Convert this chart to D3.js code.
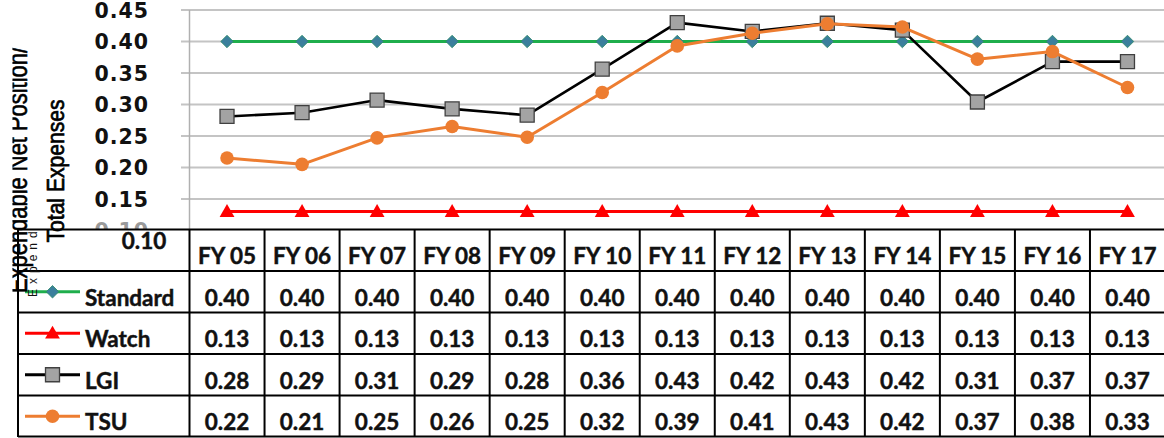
<!DOCTYPE html>
<html><head><meta charset="utf-8">
<script src="https://cdn.jsdelivr.net/npm/d3@7/dist/d3.min.js"></script>
<style>body{margin:0;background:#fff}svg{display:block}</style>
</head><body>
<script>
const years = ["FY 05","FY 06","FY 07","FY 08","FY 09","FY 10","FY 11","FY 12","FY 13","FY 14","FY 15","FY 16","FY 17"];
const standard = [0.40,0.40,0.40,0.40,0.40,0.40,0.40,0.40,0.40,0.40,0.40,0.40,0.40];
const watch = [0.13,0.13,0.13,0.13,0.13,0.13,0.13,0.13,0.13,0.13,0.13,0.13,0.13];
const lgi = [0.281,0.287,0.307,0.293,0.283,0.356,0.430,0.416,0.429,0.418,0.304,0.368,0.368];
const tsu = [0.215,0.205,0.247,0.265,0.248,0.319,0.393,0.413,0.428,0.423,0.372,0.384,0.327];
const standardLabels = ["0.40","0.40","0.40","0.40","0.40","0.40","0.40","0.40","0.40","0.40","0.40","0.40","0.40"];
const watchLabels = ["0.13","0.13","0.13","0.13","0.13","0.13","0.13","0.13","0.13","0.13","0.13","0.13","0.13"];
const lgiLabels = ["0.28","0.29","0.31","0.29","0.28","0.36","0.43","0.42","0.43","0.42","0.31","0.37","0.37"];
const tsuLabels = ["0.22","0.21","0.25","0.26","0.25","0.32","0.39","0.41","0.43","0.42","0.37","0.38","0.33"];
const yTicks = [0.10,0.15,0.20,0.25,0.30,0.35,0.40,0.45];
const seriesNames = ["Standard","Watch","LGI","TSU"];
const yTitle1 = "Expendable Net Position/";
const yTitle2 = "Total Expenses";

const W = 1164, H = 438;
const svg = d3.select("body").append("svg").attr("width", W).attr("height", H);
svg.append("rect").attr("width", W).attr("height", H).attr("fill", "#fff");

const x = d3.scaleBand().domain(years).range([189.5, 1165]).padding(0);
const cx = d => x(d) + x.bandwidth() / 2;
const y = d3.scaleLinear().domain([0.10, 0.45]).range([230.5, 10]);

// gridlines
svg.append("g").selectAll("line").data(yTicks).join("line")
  .attr("x1", 181).attr("x2", W)
  .attr("y1", d => y(d)).attr("y2", d => y(d))
  .attr("stroke", "#c4c4c4").attr("stroke-width", 2);
// axis line
svg.append("line").attr("x1", 189.5).attr("x2", 189.5).attr("y1", y(0.45)).attr("y2", y(0.10))
  .attr("stroke", "#b0b0b0").attr("stroke-width", 1.5);

// tick labels
svg.append("g").selectAll("text").data(yTicks).join("text")
  .attr("x", 149).attr("y", d => y(d) + 7.5)
  .attr("text-anchor", "end")
  .attr("font-family", "DejaVu Sans").attr("font-weight", "bold").attr("font-size", 20.5)
  .attr("letter-spacing", 1)
  .attr("fill", d => d === 0.10 ? "#9a9a9a" : "#111")
  .text(d => d.toFixed(2));

// lines
const seriesData = [
  {name: "Standard", vals: standard, color: "#1fae4c", sym: "diamond"},
  {name: "Watch", vals: watch, color: "#ff0000", sym: "triangle"},
  {name: "LGI", vals: lgi, color: "#000000", sym: "square"},
  {name: "TSU", vals: tsu, color: "#ed7d31", sym: "circle"}
];
const line = d3.line().x((d, i) => cx(years[i])).y(d => y(d));

function marker(g, sym) {
  if (sym === "diamond") {
    g.append("path").attr("d", d3.symbol(d3.symbolSquare, 78)()).attr("transform", "rotate(45)")
      .attr("fill", "#3b7f9c").attr("stroke", "#2e8a6a").attr("stroke-width", 0.8);
  } else if (sym === "triangle") {
    g.append("path").attr("d", d3.symbol(d3.symbolTriangle, 95)()).attr("transform", "translate(0,1)")
      .attr("fill", "#ff0000");
  } else if (sym === "square") {
    g.append("path").attr("d", d3.symbol(d3.symbolSquare, 196)())
      .attr("fill", "#a3a3a3").attr("stroke", "#404040").attr("stroke-width", 1.3);
  } else {
    g.append("path").attr("d", d3.symbol(d3.symbolCircle, 145)())
      .attr("fill", "#ed7d31");
  }
}

seriesData.forEach(s => {
  svg.append("path").datum(s.vals).attr("d", line)
    .attr("fill", "none").attr("stroke", s.color).attr("stroke-width", s.sym === "square" ? 2.6 : 3)
    .attr("stroke-linejoin", "round");
  s.vals.forEach((v, i) => {
    const g = svg.append("g").attr("transform", `translate(${cx(years[i])},${y(v)})`);
    marker(g, s.sym);
  });
});

// table
const rowTop = 229.5, rowH = 41.5;
const tableLeft = 18;
svg.append("rect").attr("x", tableLeft).attr("y", rowTop).attr("width", W - tableLeft).attr("height", H - rowTop)
  .attr("fill", "#fff");

const rowLines = d3.range(6).map(i => rowTop + i * rowH);
const tg = svg.append("g");
tg.selectAll("line.h").data(rowLines).join("line").attr("class", "h")
  .attr("x1", tableLeft).attr("x2", W).attr("y1", d => Math.min(d, 436.5)).attr("y2", d => Math.min(d, 436.5))
  .attr("stroke", "#000").attr("stroke-width", 2);
const colLines = [tableLeft, 189.5].concat(years.slice(1).map(d => x(d)));
tg.selectAll("line.v").data(colLines).join("line").attr("class", "v")
  .attr("x1", d => d).attr("x2", d => d).attr("y1", rowTop).attr("y2", 437)
  .attr("stroke", "#000").attr("stroke-width", 2);

const tfont = t => t.attr("font-family", "Lato").attr("font-weight", 700).attr("font-size", 22.5)
  .attr("fill", "#111").attr("stroke", "#111").attr("stroke-width", 0.45);
// header
tfont(tg.selectAll("text.hd").data(years).join("text").attr("class", "hd")
  .attr("x", d => cx(d)).attr("y", rowTop + rowH - 7).attr("text-anchor", "middle").text(d => d));
tfont(tg.append("text").attr("x", 144).attr("y", 248.5).attr("text-anchor", "middle").text(yTicks[0].toFixed(2)));

const rowLabels = [standardLabels, watchLabels, lgiLabels, tsuLabels];
seriesData.forEach((s, r) => {
  const top = rowTop + (r + 1) * rowH;
  const bottom = top + rowH;
  tfont(tg.selectAll(null).data(rowLabels[r]).join("text")
    .attr("x", (d, i) => cx(years[i])).attr("y", bottom - 7).attr("text-anchor", "middle").text(d => d));
  const my = top + rowH / 2;
  tg.append("line").attr("x1", 25).attr("x2", 80).attr("y1", my).attr("y2", my)
    .attr("stroke", s.color).attr("stroke-width", 3);
  marker(tg.append("g").attr("transform", `translate(52.5,${my})`), s.sym);
  tfont(tg.append("text").attr("x", 85).attr("y", bottom - 7).text(seriesNames[r]));
});

// axis titles (drawn over the table, as in the reference)
const clip = svg.append("clipPath").attr("id", "clipL");
clip.append("rect").attr("x", 12.5).attr("y", 0).attr("width", 200).attr("height", H);
svg.append("g").attr("clip-path", "url(#clipL)")
  .append("text")
  .attr("transform", "translate(27,170) rotate(-90)")
  .attr("text-anchor", "middle")
  .attr("font-family", "Liberation Sans").attr("font-size", 28)
  .attr("textLength", 246).attr("lengthAdjust", "spacingAndGlyphs")
  .attr("fill", "#000").attr("stroke", "#000").attr("stroke-width", 0.6).text(yTitle1);
svg.append("text")
  .attr("transform", "translate(64,171) rotate(-90)")
  .attr("text-anchor", "middle")
  .attr("font-family", "Liberation Sans").attr("font-size", 24)
  .attr("textLength", 143).attr("lengthAdjust", "spacingAndGlyphs")
  .attr("fill", "#000").attr("stroke", "#000").attr("stroke-width", 0.7).text(yTitle2);
// small garbled text
svg.append("text")
  .attr("transform", "translate(37,297) rotate(-90)")
  .attr("font-family", "Liberation Sans").attr("font-size", 12)
  .attr("letter-spacing", 5).attr("fill", "#111").text("Expend");
</script>
</body></html>
